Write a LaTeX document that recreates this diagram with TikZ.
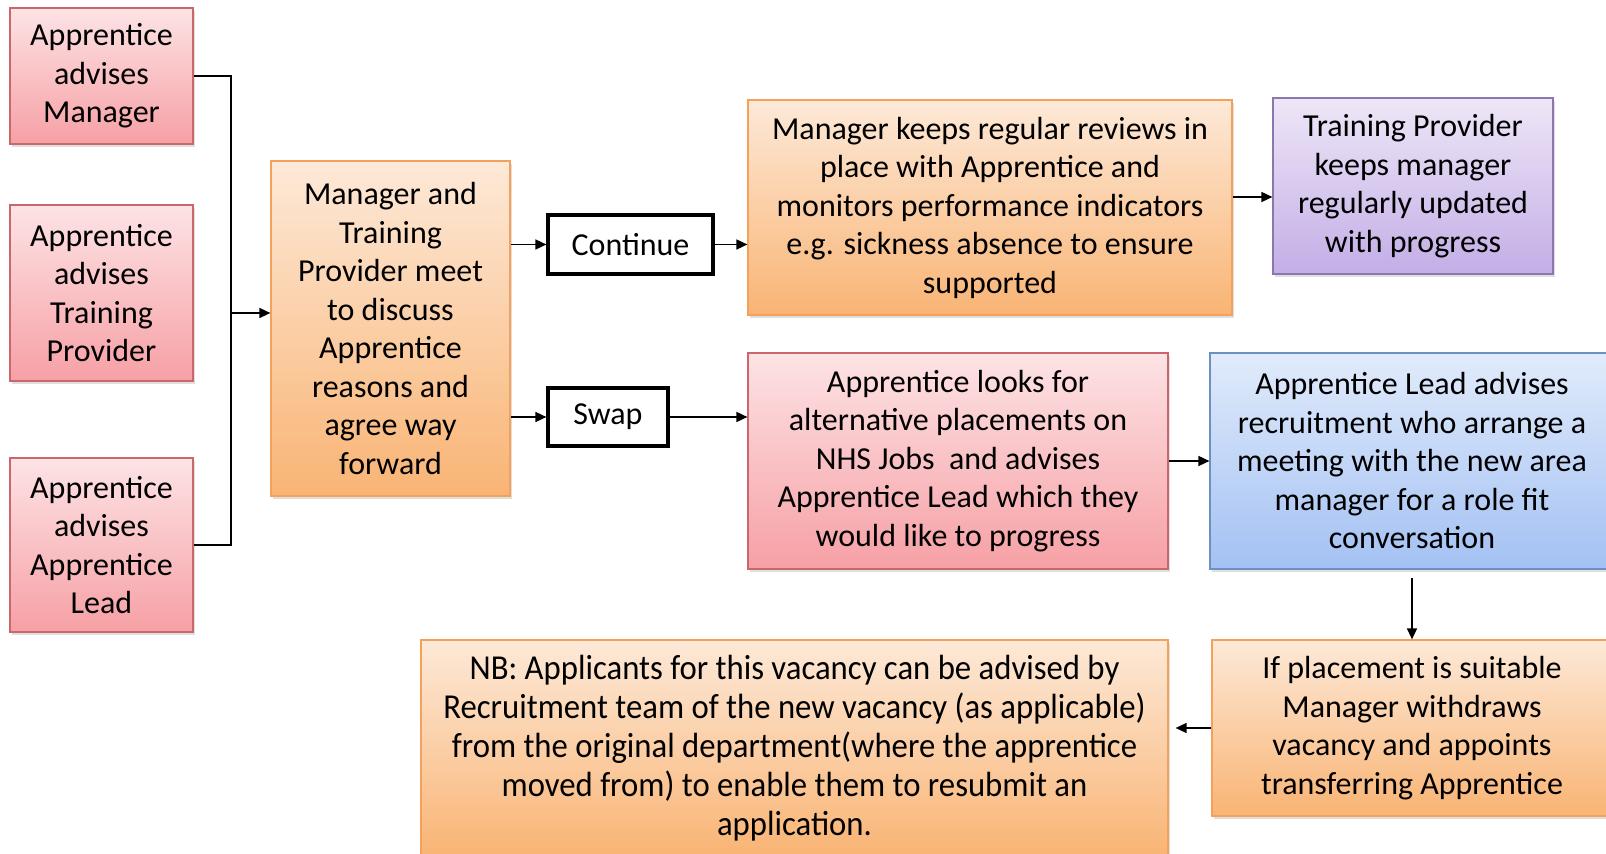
\documentclass[tikz,border=0pt]{standalone}
\usepackage{fontspec}
\setmainfont{Carlito}
\newfontfamily\narrowfont[FakeStretch=0.935]{Carlito}
\usepackage{tikz}
\usetikzlibrary{arrows.meta, positioning, shadows, calc}
\definecolor{PinkTop}{HTML}{FDE3E5}
\definecolor{PinkBot}{HTML}{F6A0A5}
\definecolor{PinkLine}{HTML}{C9676C}
\definecolor{OrTop}{HTML}{FDE9D8}
\definecolor{OrBot}{HTML}{F9B474}
\definecolor{OrLine}{HTML}{F4A15C}
\definecolor{PurTop}{HTML}{EEE6F7}
\definecolor{PurBot}{HTML}{C3AEE6}
\definecolor{PurLine}{HTML}{8B76AE}
\definecolor{BluTop}{HTML}{E1EBFB}
\definecolor{BluBot}{HTML}{A3C1F3}
\definecolor{BluLine}{HTML}{6D8FC2}

\begin{document}
\begin{tikzpicture}[x=0.5pt, y=-0.5pt, >={Triangle[length=5.5pt, width=5pt]},
  font=\fontsize{16pt}{19.25pt}\selectfont,
  box/.style={draw, line width=0.6pt, align=center, inner sep=0pt,
    drop shadow={shadow xshift=1pt, shadow yshift=-1.5pt, opacity=0.25}},
  pinkbox/.style={box, draw=PinkLine, top color=PinkTop, bottom color=PinkBot},
  orbox/.style={box, draw=OrLine, top color=OrTop, bottom color=OrBot},
  purbox/.style={box, draw=PurLine, top color=PurTop, bottom color=PurBot},
  blubox/.style={box, draw=BluLine, top color=BluTop, bottom color=BluBot},
  choice/.style={draw, line width=1.6pt, fill=white, inner sep=0pt},
  link/.style={->, line width=0.8pt}]
  \clip (0,0) rectangle (1606,854);
  % left column
  \node[pinkbox, minimum width=91.5pt, minimum height=68pt] (advMgr) at (101.5,76)
    {Apprentice\\advises\\Manager};
  \node[pinkbox, minimum width=91.5pt, minimum height=88pt] (advTP) at (101.5,293)
    {Apprentice\\advises\\Training\\Provider};
  \node[pinkbox, minimum width=91.5pt, minimum height=87pt] (advLead) at (101.5,545)
    {Apprentice\\advises\\Apprentice\\Lead};
  \node[orbox, minimum width=119.5pt, minimum height=167.5pt] (meet) at (390.5,328.5)
    {Manager and\\Training\\Provider meet\\to discuss\\Apprentice\\reasons and\\agree way\\forward};
  % decision
  \node[choice, minimum width=82.5pt, minimum height=29.5pt] (cont) at (630.5,244.5) {Continue};
  \node[choice, minimum width=60pt, minimum height=29pt] (swap) at (608,417) {Swap};
  % continue branch
  \node[orbox, minimum width=242pt, minimum height=107.5pt] (review) at (990,207.5)
    {Manager keeps regular reviews in\\place with Apprentice and\\monitors performance indicators\\e.g. sickness absence to ensure\\supported};
  \node[purbox, minimum width=140pt, minimum height=88pt] (update) at (1413,186)
    {Training Provider\\keeps manager\\regularly updated\\with progress};
  % swap branch
  \node[pinkbox, minimum width=210pt, minimum height=108pt] (looks) at (958,461)
    {Apprentice looks for\\alternative placements on\\NHS Jobs\ \ and advises\\Apprentice Lead which they\\would like to progress};
  \node[blubox, minimum width=202pt, minimum height=108pt] (leadAdv) at (1412,461)
    {Apprentice Lead advises\\recruitment who arrange a\\meeting with the new area\\manager for a role fit\\conversation};
  \node[orbox, minimum width=200pt, minimum height=88pt] (suit) at (1412,728)
    {If placement is suitable\\Manager withdraws\\vacancy and appoints\\transferring Apprentice};
  \node[orbox, minimum width=373.5pt, minimum height=108pt, font=\narrowfont\fontsize{17.5pt}{19.5pt}\selectfont] (nb) at (794.5,748)
    {NB: Applicants for this vacancy can be advised by\\Recruitment team of the new vacancy (as applicable)\\from the original department(where the apprentice\\moved from) to enable them to resubmit an\\application.};
  % connectors
  \coordinate (jTop) at (231,76);
  \coordinate (jBot) at (231,545);
  \coordinate (jMid) at (231,313);
  \draw[line width=0.8pt] (advMgr.east) -- (jTop) -- (jBot) -- (advLead.east);
  \draw[link] (jMid) -- (jMid -| meet.west);
  \draw[link] (meet.east |- cont) -- (cont.west);
  \draw[link] (meet.east |- swap) -- (swap.west);
  \draw[link] (cont.east) -- (cont.east -| review.west);
  \draw[link] ([yshift=5.25pt]review.east) -- ([yshift=5.25pt]review.east -| update.west);
  \draw[link] (swap.east) -- (swap.east -| looks.west);
  \draw[link] (looks.east) -- (leadAdv.west);
  \draw[link] ([yshift=-4pt]leadAdv.south) -- (suit.north);
  \draw[link] (suit.west) -- ([xshift=3.5pt]suit.west -| nb.east);
\end{tikzpicture}
\end{document}
